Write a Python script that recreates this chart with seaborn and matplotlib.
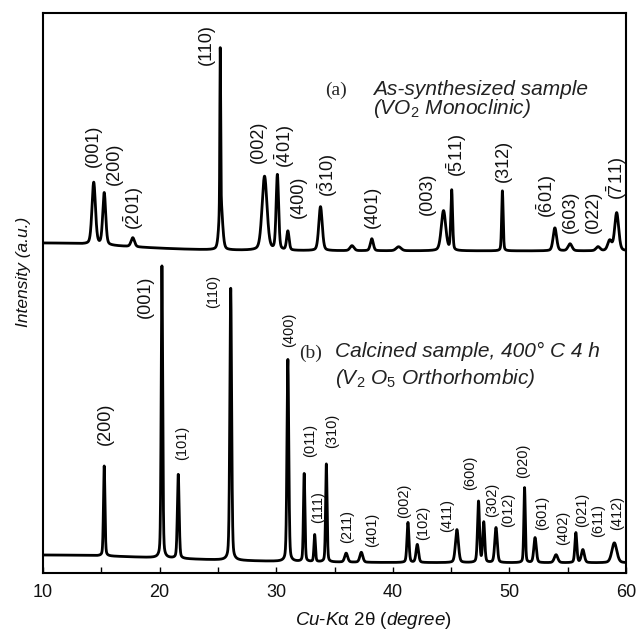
import numpy as np
import pandas as pd
import matplotlib
matplotlib.use("Agg")
import matplotlib.pyplot as plt
from matplotlib.ticker import MultipleLocator
import seaborn as sns

# ---------------- data ----------------
# upper pattern (a): as-synthesized VO2 monoclinic
a_baseline = 322
a_pos    = [10.0, 14.35, 15.25, 17.7, 25.2, 25.25, 29.0, 30.1, 31.0, 33.8, 36.5, 38.2, 40.5,
            44.35, 45.05, 49.4, 53.9, 55.2, 57.6, 58.6, 59.2]
a_height = [8, 62, 52, 9, 160, 45, 74, 75, 19, 44, 5, 12, 4,
            40, 60, 60, 23, 7, 4, 10, 38]
a_fwhm   = [16, 0.35, 0.3, 0.35, 0.08, 0.35, 0.5, 0.25, 0.25, 0.35, 0.4, 0.3, 0.5,
            0.45, 0.18, 0.15, 0.35, 0.4, 0.4, 0.4, 0.4]

# lower pattern (b): calcined V2O5 orthorhombic
b_baseline = 10
b_pos    = [10.0, 15.25, 20.2, 21.6, 26.1, 31.0, 32.4, 33.3, 34.3, 36.0, 37.3, 41.3, 42.1,
            45.5, 47.35, 47.8, 48.85, 51.3, 52.2, 54.0, 55.7, 56.3, 59.0]
b_height = [8, 90, 292, 84, 272, 202, 88, 27, 98, 9, 10, 40, 18,
            33, 61, 40, 35, 75, 25, 8, 30, 13, 20]
b_fwhm   = [25, 0.15, 0.15, 0.18, 0.18, 0.18, 0.15, 0.15, 0.15, 0.3, 0.3, 0.2, 0.25,
            0.3, 0.2, 0.2, 0.25, 0.15, 0.25, 0.35, 0.2, 0.3, 0.5]

# peak labels: text, x (2theta), y (bottom of label), size class
a_labels = [r"(001)", r"(200)", r"$\mathregular{(\bar{2}01)}$", r"(110)", r"(002)",
            r"$\mathregular{(\bar{4}01)}$", r"(400)", r"$\mathregular{(\bar{3}10)}$", r"(401)",
            r"(003)", r"$\mathregular{(\bar{5}11)}$", r"(312)", r"$\mathregular{(\bar{6}01)}$",
            r"(603)", r"(022)", r"$\mathregular{(\bar{7}11)}$"]
a_lab_x = [14.29, 16.09, 17.80, 23.98, 28.44, 30.75, 31.87, 34.44, 38.22,
           42.93, 45.50, 49.45, 53.22, 55.20, 57.17, 59.23]
a_lab_y = [406, 388, 343, 508, 410, 405, 355, 376, 345,
           358, 396, 391, 355, 340, 340, 373]

b_labels = ["(200)", "(001)", "(110)", "(101)", "(400)", "(011)", "(111)", "(310)",
            "(211)", "(401)", "(002)", "(102)", "(411)", "(600)", "(302)", "(012)",
            "(020)", "(601)", "(402)", "(021)", "(611)", "(412)"]
b_lab_x = [15.32, 18.75, 24.58, 21.92, 31.10, 32.90, 33.58, 34.79,
           36.07, 38.22, 40.96, 42.59, 44.65, 46.62, 48.51, 49.88,
           51.17, 52.80, 54.60, 56.23, 57.60, 59.23]
b_lab_y = [128, 255, 265, 113, 226, 116, 50, 125,
           30, 26, 55, 33, 41, 83, 56, 46,
           95, 43, 28, 46, 36, 43]
b_lab_big = [True, True] + [False] * 20

x_ticks = [10, 20, 30, 40, 50, 60]

# ---------------- build curves ----------------
grid = np.linspace(10, 60, 5001)

def profile(base, pos, height, fwhm):
    y = np.full_like(grid, float(base))
    for p, h, w in zip(pos, height, fwhm):
        g = np.exp(-4 * np.log(2) * ((grid - p) / w) ** 2)
        l = 1.0 / (1.0 + 4 * ((grid - p) / w) ** 2)
        y += h * (0.7 * g + 0.3 * l)
    return y

ya = profile(a_baseline, a_pos, a_height, a_fwhm)
yb = profile(b_baseline, b_pos, b_height, b_fwhm)
df = pd.concat([
    pd.DataFrame({"two_theta": grid, "intensity": ya, "pattern": "a"}),
    pd.DataFrame({"two_theta": grid, "intensity": yb, "pattern": "b"}),
])

# ---------------- style ----------------
sns.set_theme(style="ticks")
plt.rcParams["font.family"] = ["Liberation Sans", "DejaVu Sans"]
plt.rcParams["mathtext.fontset"] = "custom"
plt.rcParams["mathtext.rm"] = "Liberation Sans"
plt.rcParams["mathtext.it"] = "Liberation Sans:italic"
plt.rcParams["mathtext.bf"] = "Liberation Sans:bold"

fig = plt.figure(figsize=(6.4, 6.32), dpi=100)
ax = fig.add_axes([43 / 640, 1 - 573 / 632, 583 / 640, 560 / 632])

sns.lineplot(data=df, x="two_theta", y="intensity", units="pattern", estimator=None,
             color="black", linewidth=2.0, ax=ax, legend=False)

ax.set_xlim(10, 60)
ax.set_ylim(0, 560)
ax.set_yticks([])
ax.set_xticks(x_ticks)
ax.xaxis.set_minor_locator(MultipleLocator(5))
ax.tick_params(axis="x", which="both", direction="in", length=4, width=1,
               color="black", labelsize=13, pad=8, labelcolor="#111111")
for s in ax.spines.values():
    s.set_visible(True)
    s.set_linewidth(1.5)
    s.set_color("black")

ax.set_xlabel(r"$\mathit{Cu}$-$\mathit{K}$α 2θ $\mathit{(degree)}$", fontsize=13.5, color="#111111")
ax.xaxis.set_label_coords(0.566, -0.066)
ax.set_ylabel("Intensity (a.u.)", fontsize=12.5, style="italic", color="#111111")
ax.yaxis.set_label_coords(-0.021, 0.5375)

# peak labels
for t, x, y in zip(a_labels, a_lab_x, a_lab_y):
    ax.text(x, y, t, rotation=90, ha="center", va="bottom", fontsize=13, color="#111111")
for t, x, y, big in zip(b_labels, b_lab_x, b_lab_y, b_lab_big):
    ax.text(x, y, t, rotation=90, ha="center", va="bottom",
            fontsize=13 if big else 10.5, color="#111111")

# sample annotations
ax.text(34.19, 478, "(a)", family="Liberation Serif", fontsize=14, ha="left", va="baseline")
ax.text(38.3, 478, "As-synthesized sample", style="italic", fontsize=15, ha="left", va="baseline",
        color="#222222")
ax.text(38.3, 459, "(VO$_2$ Monoclinic)", style="italic", fontsize=15, ha="left", va="baseline",
        color="#222222")
ax.text(32.0, 215, "(b)", family="Liberation Serif", fontsize=14, ha="left", va="baseline")
ax.text(35.04, 216, "Calcined sample, 400° C 4 h", style="italic", fontsize=15, ha="left",
        va="baseline", color="#222222")
ax.text(35.04, 189, "(V$_2$ O$_5$ Orthorhombic)", style="italic", fontsize=15, ha="left",
        va="baseline", color="#222222")

fig.savefig("out.png", dpi=100)
